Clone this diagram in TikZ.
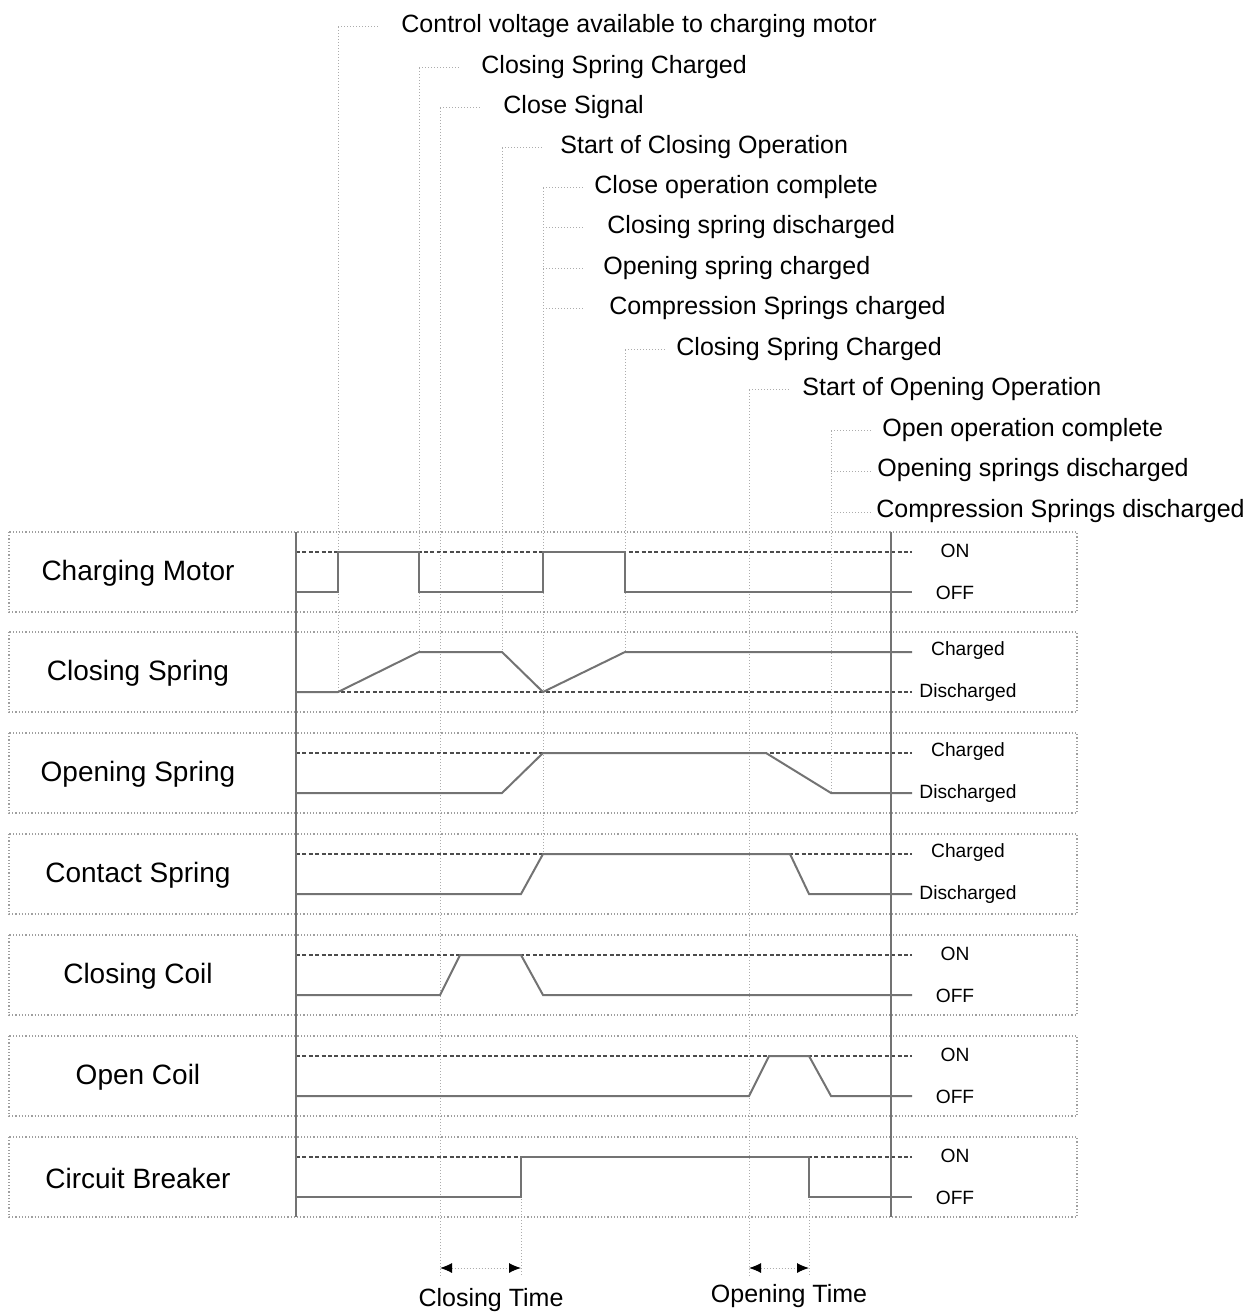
\documentclass[tikz,border=0pt]{standalone}
\usepackage{fontspec}
\setmainfont{Liberation Sans}
\usetikzlibrary{arrows.meta}

\begin{document}
\begin{tikzpicture}[x=0.5pt, y=-0.5pt,
  rowbox/.style={draw=gray!75, densely dotted, line width=0.6pt},
  rowname/.style={font=\fontsize{14}{16}\selectfont},
  statelbl/.style={font=\fontsize{9.6}{11}\selectfont},
  evlabel/.style={anchor=mid west, inner sep=0pt, font=\fontsize{12.5}{15}\selectfont},
  leader/.style={draw=gray!65, densely dotted, line width=0.5pt},
  refline/.style={draw=black!70, dash pattern=on 2pt off 1.2pt, line width=0.8pt},
  signal/.style={draw=black!55, line width=1pt},
  divider/.style={draw=black!55, line width=0.8pt},
  timespan/.style={leader, {Latex[length=6pt,width=5pt,color=black]}-{Latex[length=6pt,width=5pt,color=black]}}]

  \useasboundingbox (0,0) rectangle (1248,1315);

  % rows: top / name / high state / low state / state x / dashed level
  \foreach \t/\name/\hi/\lo/\lx/\dy in {
      532/Charging Motor/ON/OFF/955/20,
      632/Closing Spring/Charged/Discharged/968/60,
      733/Opening Spring/Charged/Discharged/968/20,
      834/Contact Spring/Charged/Discharged/968/20,
      935/Closing Coil/ON/OFF/955/20,
      1036/Open Coil/ON/OFF/955/20,
      1137/Circuit Breaker/ON/OFF/955/20} {
    \draw[rowbox] (9,\t) rectangle (1077,\t+80);
    \node[rowname] (row\t) at (138,\t+41) {\name};
    \node[statelbl] (hi\t) at (\lx,\t+19) {\hi};
    \node[statelbl] (lo\t) at (\lx,\t+61) {\lo};
    \draw[refline] (296,\t+\dy) -- (912,\t+\dy);
  }

  % event lines
  \foreach \x/\ya/\yb in {338/27/692, 419/68/652, 440/108/1277, 502/148/652,
      543/188/854, 625/350/652, 749/390/1277, 831/431/793, 521/1157/1277, 809/1157/1277}
    \draw[leader] (\x,\ya) -- (\x,\yb);

  % event labels
  \foreach \i/\x/\y/\tx/\txt in {
      1/338/27/401/Control voltage available to charging motor,
      2/419/68/481/Closing Spring Charged,
      3/440/108/503/Close Signal,
      4/502/148/560/Start of Closing Operation,
      5/543/188/594/Close operation complete,
      6/543/228/607/Closing spring discharged,
      7/543/269/603/Opening spring charged,
      8/543/309/609/Compression Springs charged,
      9/625/350/676/Closing Spring Charged,
      10/749/390/802/Start of Opening Operation,
      11/831/431/882/Open operation complete,
      12/831/471/877/Opening springs discharged,
      13/831/512/876/Compression Springs discharged} {
    \node[evlabel] (ev\i) at (\tx,\y) {\txt};
    \draw[leader] (\x,\y) -- ++(40,0);
  }

  % dividers
  \draw[divider] (296,532) -- (296,1217);
  \draw[divider] (891,532) -- (891,1217);

  % signals
  \draw[signal] (296,592) -- (338,592) -- (338,552) -- (419,552) -- (419,592)
    -- (543,592) -- (543,552) -- (625,552) -- (625,592) -- (912,592);
  \draw[signal] (296,692) -- (338,692) -- (419,652) -- (502,652) -- (543,692)
    -- (625,652) -- (912,652);
  \draw[signal] (296,793) -- (502,793) -- (543,753) -- (766,753) -- (831,793) -- (912,793);
  \draw[signal] (296,894) -- (521,894) -- (543,854) -- (790,854) -- (809,894) -- (912,894);
  \draw[signal] (296,995) -- (440,995) -- (460,955) -- (521,955) -- (543,995) -- (912,995);
  \draw[signal] (296,1096) -- (749,1096) -- (769,1056) -- (809,1056) -- (831,1096) -- (912,1096);
  \draw[signal] (296,1197) -- (521,1197) -- (521,1157) -- (809,1157) -- (809,1197) -- (912,1197);

  % closing and opening time
  \coordinate (cta) at (440,1268);
  \coordinate (ctb) at (521,1268);
  \coordinate (ota) at (749,1268);
  \coordinate (otb) at (809,1268);
  \draw[timespan] (cta) -- (ctb);
  \draw[timespan] (ota) -- (otb);
  \node[font=\fontsize{12.5}{15}\selectfont] (ct) at (491,1300) {Closing Time};
  \node[font=\fontsize{12.5}{15}\selectfont] (ot) at (789,1296) {Opening Time};
\end{tikzpicture}
\end{document}
